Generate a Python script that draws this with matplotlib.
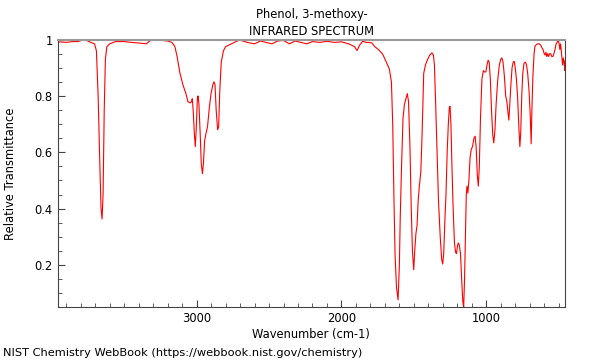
import numpy as np
import matplotlib
matplotlib.use("Agg")
import matplotlib.pyplot as plt
from matplotlib.ticker import MultipleLocator, FormatStrFormatter

# spectrum: wavenumber (cm-1) and relative transmittance
wavenumber = [3965, 3940, 3900, 3860, 3820, 3790, 3760, 3730, 3705, 3692,
              3680, 3668, 3660, 3653, 3646, 3638, 3630, 3620, 3600, 3560,
              3500, 3450, 3400, 3347, 3320, 3280, 3240, 3200, 3170, 3150,
              3135, 3115, 3095, 3075, 3060, 3045, 3035, 3030, 3024, 3015,
              3009, 3003, 2995, 2990, 2984, 2975, 2968, 2960, 2953, 2945,
              2935, 2925, 2912, 2900, 2888, 2880, 2873, 2865, 2855, 2848,
              2840, 2830, 2815, 2800, 2760, 2720, 2700, 2650, 2600, 2560,
              2520, 2480, 2440, 2400, 2360, 2320, 2280, 2240, 2200, 2150,
              2100, 2050, 2000, 1950, 1910, 1892, 1875, 1853, 1830, 1810,
              1790, 1770, 1745, 1715, 1690, 1669, 1655, 1646, 1638, 1630,
              1620, 1609, 1600, 1594, 1585, 1575, 1565, 1555, 1545, 1537,
              1527, 1518, 1510, 1501, 1494, 1486, 1478, 1470, 1462, 1452,
              1444, 1432, 1420, 1405, 1390, 1375, 1365, 1358, 1350, 1340,
              1330, 1318, 1308, 1301, 1294, 1285, 1278, 1270, 1262, 1255,
              1250, 1244, 1237, 1230, 1220, 1212, 1206, 1198, 1193, 1186,
              1178, 1170, 1162, 1156, 1150, 1144, 1138, 1133, 1127, 1120,
              1112, 1104, 1095, 1085, 1077, 1070, 1062, 1055, 1048, 1040,
              1030, 1020, 1012, 1003, 995, 987, 980, 972, 963, 955,
              948, 940, 932, 922, 910, 900, 892, 884, 875, 866,
              858, 850, 844, 838, 830, 822, 814, 807, 800, 792,
              784, 776, 768, 762, 755, 748, 740, 730, 722, 714,
              705, 697, 690, 685, 678, 670, 664, 655, 645, 634,
              624, 615, 608, 600, 594, 588, 582, 576, 570, 563,
              555, 548, 540, 533, 525, 518, 510, 503, 497, 492,
              487, 482, 477, 473, 468, 463, 458, 455]
transmittance = [0.99, 0.992, 0.99, 0.993, 0.993, 0.998, 0.997, 0.99, 0.985, 0.96,
                 0.8, 0.55, 0.4, 0.363, 0.45, 0.75, 0.93, 0.975, 0.985, 0.993,
                 0.993, 0.99, 0.988, 0.985, 0.997, 0.998, 0.997, 0.995, 0.99, 0.975,
                 0.94, 0.88, 0.84, 0.81, 0.78, 0.775, 0.78, 0.79, 0.75, 0.66,
                 0.62, 0.68, 0.79, 0.80, 0.77, 0.66, 0.56, 0.524, 0.56, 0.64,
                 0.668, 0.69, 0.76, 0.81, 0.84, 0.85, 0.84, 0.75, 0.68, 0.69,
                 0.82, 0.92, 0.96, 0.975, 0.985, 0.995, 0.998, 0.99, 0.985, 0.995,
                 0.99, 0.985, 0.995, 0.997, 0.985, 0.995, 0.99, 0.985, 0.993, 0.99,
                 0.994, 0.99, 0.992, 0.985, 0.975, 0.961, 0.98, 0.994, 0.99, 0.99,
                 0.988, 0.975, 0.965, 0.948, 0.92, 0.895, 0.85, 0.7, 0.45, 0.24,
                 0.12, 0.076, 0.2, 0.37, 0.55, 0.72, 0.77, 0.79, 0.808, 0.78,
                 0.62, 0.4, 0.25, 0.183, 0.25, 0.31, 0.34, 0.43, 0.48, 0.53,
                 0.65, 0.88, 0.91, 0.93, 0.945, 0.953, 0.945, 0.91, 0.78, 0.6,
                 0.43, 0.3, 0.22, 0.203, 0.24, 0.37, 0.45, 0.6, 0.7, 0.76,
                 0.763, 0.7, 0.55, 0.42, 0.28, 0.245, 0.24, 0.27, 0.278, 0.27,
                 0.24, 0.15, 0.07, 0.05, 0.15, 0.3, 0.45, 0.48, 0.455, 0.5,
                 0.58, 0.61, 0.62, 0.65, 0.657, 0.62, 0.52, 0.48, 0.55, 0.72,
                 0.86, 0.89, 0.885, 0.885, 0.91, 0.927, 0.92, 0.86, 0.74, 0.66,
                 0.633, 0.68, 0.77, 0.85, 0.91, 0.93, 0.935, 0.92, 0.87, 0.8,
                 0.78, 0.74, 0.714, 0.77, 0.84, 0.9, 0.92, 0.923, 0.9, 0.86,
                 0.8, 0.7, 0.62, 0.67, 0.8, 0.88, 0.915, 0.92, 0.91, 0.88,
                 0.82, 0.74, 0.63, 0.75, 0.87, 0.95, 0.976, 0.982, 0.985, 0.985,
                 0.98, 0.97, 0.965, 0.95, 0.945, 0.955, 0.94, 0.95, 0.94, 0.95,
                 0.95, 0.94, 0.94, 0.95, 0.965, 0.985, 0.99, 1.0, 0.985, 0.965,
                 0.985, 0.96, 0.93, 0.91, 0.935, 0.92, 0.89, 0.925]

title = "Phenol, 3-methoxy-\nINFRARED SPECTRUM"
footer = "NIST Chemistry WebBook (https://webbook.nist.gov/chemistry)"

fig = plt.figure(figsize=(6, 3.6), dpi=100)
ax = fig.add_axes([0.096, 0.146, 0.846, 0.744])
ax.plot(wavenumber, transmittance, color="red", lw=0.8)

ax.set_xlim(3960, 455)
ax.set_ylim(0.049, 1.0)
ax.xaxis.set_major_locator(MultipleLocator(1000))
ax.xaxis.set_minor_locator(MultipleLocator(100))
ax.yaxis.set_major_locator(MultipleLocator(0.2))
ax.yaxis.set_minor_locator(MultipleLocator(0.05))
ax.yaxis.set_major_formatter(FormatStrFormatter("%g"))
ax.tick_params(which="both", direction="in", labelsize=8.3, top=False, right=False,
               color="#444444")
ax.tick_params(which="major", length=5)
ax.tick_params(which="minor", length=3)
for side in ["left", "bottom", "right"]:
    ax.spines[side].set_color("#444444")
ax.spines["top"].set_color("#999999")
ax.spines["top"].set_linewidth(1.5)

ax.set_title(title, fontsize=8.3, pad=3, linespacing=1.4)
ax.set_xlabel("Wavenumber (cm-1)", fontsize=8.3, labelpad=2)
ax.set_ylabel("Relative Transmittance", fontsize=8.3)
ax.yaxis.set_label_coords(-0.08, 0.5)
fig.text(0.005, 0.01, footer, fontsize=8.2)

fig.savefig("out.png", dpi=100)
